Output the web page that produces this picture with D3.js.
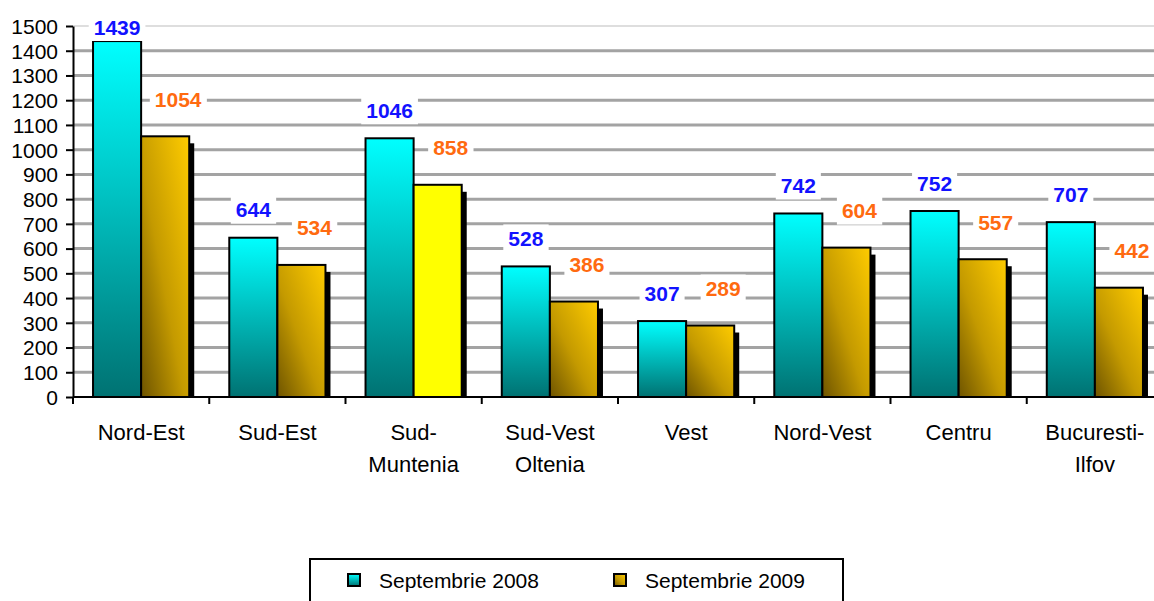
<!DOCTYPE html>
<html lang="ro">
<head>
    <meta charset="UTF-8"/>
    <title>Septembrie 2008 / 2009</title>
    <script src="https://d3js.org/d3.v7.min.js" charset="utf-8"></script>
    <style type="text/css">
        body {
            margin: 0;
            background: #ffffff;
        }
        svg text {
            font-family: "Liberation Sans", Arial, sans-serif;
        }
        .grid line {
            stroke: #a3a3a3;
            stroke-width: 3px;
        }
        .axis path,
        .axis line {
            fill: none;
            stroke: #000;
            stroke-width: 2px;
        }
    </style>
</head>
<body>
<div id="chart"></div>

<script type="text/javascript">

    // regions (a "\n" marks where the label wraps)
    var categories = ["Nord-Est", "Sud-Est", "Sud-\nMuntenia", "Sud-Vest\nOltenia", "Vest", "Nord-Vest", "Centru", "Bucuresti-\nIlfov"];
    var sept2008 = [1439, 644, 1046, 528, 307, 742, 752, 707];
    var sept2009 = [1054, 534, 858, 386, 289, 604, 557, 442];
    var seriesNames = ["Septembrie 2008", "Septembrie 2009"];
    var highlighted = "Sud-\nMuntenia";   // the 2009 bar drawn in plain yellow

    var width = 1154, height = 601;
    var plot = {left: 73, right: 1163, top: 26, bottom: 397};

    var svg = d3.select("#chart")
        .append("svg")
        .attr("width", width)
        .attr("height", height);

    var defs = svg.append("defs");

    var gCyan = defs.append("linearGradient")
        .attr("id", "gradCyan")
        .attr("x1", 0).attr("y1", 0).attr("x2", 0).attr("y2", 1);
    gCyan.append("stop").attr("offset", "0%").attr("stop-color", "#00ffff");
    gCyan.append("stop").attr("offset", "100%").attr("stop-color", "#007272");

    var gGold = defs.append("linearGradient")
        .attr("id", "gradGold")
        .attr("x1", 0).attr("y1", 1).attr("x2", 1).attr("y2", 0);
    gGold.append("stop").attr("offset", "0%").attr("stop-color", "#6e5400");
    gGold.append("stop").attr("offset", "45%").attr("stop-color", "#c49a00");
    gGold.append("stop").attr("offset", "100%").attr("stop-color", "#ffcc00");

    var data = categories.map(function(c, i) {
        return {cat: c, values: [sept2008[i], sept2009[i]]};
    });

    var x = d3.scaleBand()
        .domain(categories)
        .range([plot.left, plot.right])
        .padding(0);

    var bw = x.bandwidth();
    var x1 = d3.scaleBand()
        .domain([0, 1])
        .range([bw * 0.147, bw * 0.853])
        .padding(0);

    var y = d3.scaleLinear()
        .domain([0, 1500])
        .range([plot.bottom, plot.top]);

    // gridlines
    var grid = svg.append("g").attr("class", "grid");
    grid.selectAll("line")
        .data(y.ticks(15).filter(function(t) { return t > 0; }))
        .enter()
        .append("line")
        .attr("x1", plot.left)
        .attr("x2", width)
        .attr("y1", function(d) { return y(d); })
        .attr("y2", function(d) { return y(d); })
        .style("stroke", function(d) { return d === 1500 ? "#dedede" : null; })
        .style("stroke-width", function(d) { return d === 1500 ? "2px" : null; });

    // bars
    var groups = svg.append("g")
        .selectAll("g")
        .data(data)
        .enter()
        .append("g")
        .attr("transform", function(d) { return "translate(" + x(d.cat) + ",0)"; });

    // shadow behind the 2009 bars
    groups.append("rect")
        .attr("x", function(d) { return x1(1) + x1.bandwidth(); })
        .attr("y", function(d) { return y(d.values[1]) + 7; })
        .attr("width", 5)
        .attr("height", function(d) { return plot.bottom - y(d.values[1]) - 7; })
        .attr("fill", "#000");

    groups.selectAll("rect.bar")
        .data(function(d) {
            return d.values.map(function(v, j) { return {cat: d.cat, s: j, v: v}; });
        })
        .enter()
        .append("rect")
        .attr("class", "bar")
        .attr("x", function(d) { return x1(d.s); })
        .attr("y", function(d) { return y(d.v); })
        .attr("width", x1.bandwidth())
        .attr("height", function(d) { return plot.bottom - y(d.v); })
        .attr("fill", function(d) {
            if (d.s === 0) return "url(#gradCyan)";
            return d.cat === highlighted ? "#ffff00" : "url(#gradGold)";
        })
        .attr("stroke", "#000")
        .attr("stroke-width", 2);

    // value labels with white boxes
    var labels = groups.selectAll("g.lbl")
        .data(function(d) {
            return d.values.map(function(v, j) { return {s: j, v: v}; });
        })
        .enter()
        .append("g")
        .attr("class", "lbl")
        .attr("transform", function(d) {
            var cx = x1(d.s) + x1.bandwidth() / 2;
            var cy;
            if (d.s === 0) {
                cy = Math.max(y(d.v) - 28, 27);
            } else {
                cx = cx + 13;
                cy = y(d.v) - 37;
            }
            return "translate(" + cx + "," + cy + ")";
        });

    labels.append("text")
        .attr("text-anchor", "middle")
        .attr("dy", "0.36em")
        .attr("font-size", "21px")
        .attr("font-weight", "bold")
        .attr("fill", function(d) { return d.s === 0 ? "#1212ff" : "#ff6a10"; })
        .text(function(d) { return d.v; });

    labels.insert("rect", "text")
        .each(function() {
            var bb = this.parentNode.querySelector("text").getBBox();
            d3.select(this)
                .attr("x", bb.x - 5)
                .attr("y", -14)
                .attr("width", bb.width + 10)
                .attr("height", 28);
        })
        .attr("fill", "#fff");

    // axes
    var yAxis = svg.append("g")
        .attr("class", "axis")
        .attr("transform", "translate(" + plot.left + ",0)")
        .call(d3.axisLeft(y).ticks(15).tickFormat(d3.format("d")).tickSize(7).tickSizeOuter(0));
    yAxis.selectAll("text")
        .attr("font-size", "21px")
        .attr("fill", "#000")
        .attr("x", -15)
        .attr("dy", "0.35em");

    var xAxis = svg.append("g")
        .attr("class", "axis")
        .attr("transform", "translate(0," + plot.bottom + ")");
    xAxis.append("line")
        .attr("x1", plot.left)
        .attr("x2", width)
        .attr("y1", 0)
        .attr("y2", 0);
    xAxis.selectAll("line.tick")
        .data(categories)
        .enter()
        .append("line")
        .attr("class", "tick")
        .attr("x1", function(d) { return x(d); })
        .attr("x2", function(d) { return x(d); })
        .attr("y1", 0)
        .attr("y2", 7);

    var catLabels = svg.append("g")
        .selectAll("text")
        .data(categories)
        .enter()
        .append("text")
        .attr("text-anchor", "middle")
        .attr("font-size", "22px")
        .attr("fill", "#000")
        .attr("x", function(d) { return x(d) + bw / 2; })
        .attr("y", plot.bottom + 43);

    catLabels.selectAll("tspan")
        .data(function(d) { return d.split("\n"); })
        .enter()
        .append("tspan")
        .attr("x", function() { return d3.select(this.parentNode).attr("x"); })
        .attr("dy", function(d, i) { return i === 0 ? 0 : 32; })
        .text(function(d) { return d; });

    // legend
    var legend = svg.append("g");
    legend.append("rect")
        .attr("x", 310)
        .attr("y", 559)
        .attr("width", 533)
        .attr("height", 70)
        .attr("fill", "#fff")
        .attr("stroke", "#000")
        .attr("stroke-width", 2);

    var legendX = [348, 614];
    var items = legend.selectAll("g.item")
        .data(seriesNames)
        .enter()
        .append("g")
        .attr("class", "item")
        .attr("transform", function(d, i) { return "translate(" + legendX[i] + ",580)"; });

    items.append("rect")
        .attr("x", 0)
        .attr("y", -6)
        .attr("width", 12)
        .attr("height", 12)
        .attr("fill", function(d, i) { return i === 0 ? "url(#gradCyan)" : "url(#gradGold)"; })
        .attr("stroke", "#000")
        .attr("stroke-width", 2);

    items.append("text")
        .attr("x", 31)
        .attr("dy", "0.36em")
        .attr("font-size", "21px")
        .attr("fill", "#000")
        .text(function(d) { return d; });

</script>
</body>
</html>
